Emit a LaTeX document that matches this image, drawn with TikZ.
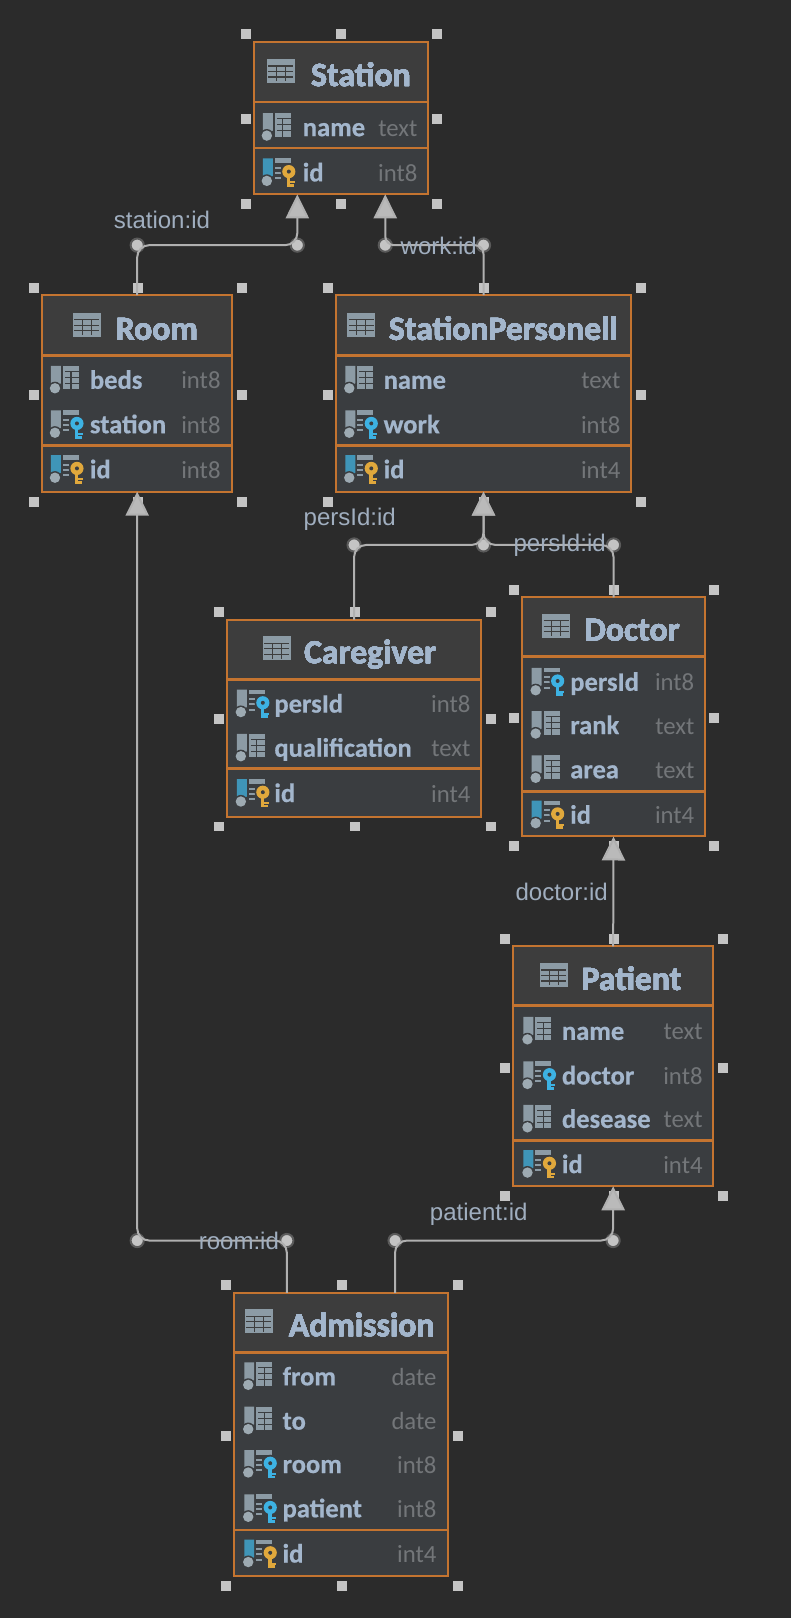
\documentclass[tikz,border=0pt]{standalone}
\usepackage{fontspec}
\setmainfont[BoldFeatures={FakeBold=0.5}]{Carlito}
\newfontfamily\labelfont{Liberation Sans}
\usepackage{tikz}
\usetikzlibrary{arrows.meta, fit}

\definecolor{canvasbg}{HTML}{2B2B2B}
\definecolor{headbg}{HTML}{3D3D3D}
\definecolor{rowbg}{HTML}{3A3D40}
\definecolor{frameorange}{HTML}{C47430}
\definecolor{titleblue}{HTML}{A3B6CC}
\definecolor{typegrey}{HTML}{737679}
\definecolor{labelblue}{HTML}{A0AEBF}
\definecolor{handlegrey}{HTML}{C4C4C4}
\definecolor{linkgrey}{HTML}{B0B0B0}
\definecolor{icongrey}{HTML}{8C9BA5}
\definecolor{pkblue}{HTML}{3F95B8}
\definecolor{fkkey}{HTML}{3DB2E3}
\definecolor{pkkey}{HTML}{E0A83C}

\tikzset{
  tablebox/.style={draw=frameorange, line width=0.05cm, inner sep=0pt, outer sep=0pt},
  rule/.style={frameorange, line width=0.07cm},
  tabletitle/.style={anchor=base west, inner sep=0pt, text=titleblue, font=\fontsize{24}{26}\selectfont\bfseries},
  fieldname/.style={anchor=base west, inner sep=0pt, text=titleblue, font=\fontsize{18.9}{21}\selectfont\bfseries},
  fieldtype/.style={anchor=base east, inner sep=0pt, text=typegrey, font=\fontsize{17.6}{20}\selectfont},
  linklabel/.style={inner sep=0pt, text=labelblue, font=\fontsize{17.1}{19}\selectfont\labelfont},
  link/.style={linkgrey, line width=0.05cm, rounded corners=0.3cm},
  linkhead/.style={-{Triangle[length=0.6cm,width=0.58cm,fill=handlegrey!95!black]}},
  pin/.style={circle, fill=handlegrey, draw=headbg!85!white, line width=0.05cm, minimum size=0.33cm, inner sep=0pt},
}

% one little square of the selection frame
\newcommand{\handle}[2]{\fill[handlegrey] ({#1-5},{#2-5}) rectangle ({#1+5},{#2+5});}

% grid icon in the title row
\newcommand{\tableicon}[2]{
  \begin{scope}[shift={(#1,#2)}]
    \fill[icongrey] (0,0) rectangle (28,24);
    \foreach \gy in {7,12.5,18} \draw[headbg, line width=0.03cm] (1.5,\gy) -- (26.5,\gy);
    \foreach \gx in {9.5,18.5} \draw[headbg, line width=0.03cm] (\gx,7) -- (\gx,22.5);
  \end{scope}
}

% the left part of a field icon, the argument colours the bar
\newcommand{\iconbar}[1]{
  \fill[#1] (0,-14.5) -- (10,-14.5) -- (10,3) -- (5,6) -- (0,3) -- cycle;
  \fill[rowbg] (4,8) circle (6.6);
  \fill[icongrey!85!white] (4,8) circle (5.2);
}
\newcommand{\plainicon}[2]{
  \begin{scope}[shift={(#1,#2)}]
    \iconbar{icongrey}
    \fill[icongrey] (12,-14.5) rectangle (28,9);
    \foreach \gy in {-9,-3,3} \draw[rowbg, line width=0.03cm] (14,\gy) -- (28,\gy);
    \draw[rowbg, line width=0.03cm] (20,-9) -- (20,9);
  \end{scope}
}
\newcommand{\keypart}[1]{
  \fill[icongrey] (12,-14.5) rectangle (28,-10);
  \foreach \gy in {-6,-1,4.5} \fill[icongrey] (12,\gy) rectangle (18,\gy+2);
  \fill[rowbg] (26,-1.5) circle (8.3);
  \fill[#1] (26,-1.3) circle (6.6);
  \fill[rowbg] (26,-1.3) circle (2);
  \fill[#1] (24,3) rectangle (27.5,13.8);
  \fill[#1] (27.5,8.5) rectangle (32,10.5);
  \fill[#1] (27.5,11) rectangle (31,13.8);
}
\newcommand{\fkicon}[2]{
  \begin{scope}[shift={(#1,#2)}]
    \iconbar{icongrey}
    \keypart{fkkey}
  \end{scope}
}
\newcommand{\pkicon}[2]{
  \begin{scope}[shift={(#1,#2)}]
    \iconbar{pkblue}
    \keypart{pkkey}
  \end{scope}
}

% name, left, top, right, bottom, first rule, second rule, icon x, title x, title
\newcommand{\dbtable}[9]{
  \fill[rowbg] (#2,#3) rectangle (#4,#5);
  \fill[headbg] (#2,#3) rectangle (#4,#6);
  \draw[rule] (#2,#6) -- (#4,#6);
  \draw[rule] (#2,#7) -- (#4,#7);
  \coordinate (#1-nw) at (#2,#3);
  \coordinate (#1-se) at (#4,#5);
  \node[tablebox, fit={(#1-nw) (#1-se)}] (#1) {};
  \foreach \fx/\fy in {0/0,.5/0,1/0,0/.5,1/.5,0/1,.5/1,1/1}
    \handle{#2-8+\fx*(#4-#2+17.5)}{#3-7.5+\fy*(#5-#3+17.5)}
  \tableicon{#8}{#6-43}
  \node[tabletitle] (#1-title) at (#9,#6-16) {\tabletext};
}

\begin{document}
\begin{tikzpicture}[x=0.025cm, y=-0.025cm]
\fill[canvasbg] (-1,-1) rectangle (790,1618);
\useasboundingbox (-0.5,-0.7) rectangle (789.5,1617.3);

% Station
\def\tabletext{Station}
\dbtable{station}{252.7}{40.7}{427}{193}{101}{147}{266}{310}
\foreach \icon/\cy/\fname/\ftype in {plainicon/126.7/name/text, pkicon/172/id/int8} {
  \csname\icon\endcsname{262}{\cy}
  \node[fieldname] (station-\fname) at (301.7,\cy+8.5) {\fname};
  \node[fieldtype] (station-\fname-type) at (417,\cy+8.5) {\ftype};
}

% Room
\def\tabletext{Room}
\dbtable{room}{41}{294.3}{231.6}{491}{355}{445}{72}{114.5}
\foreach \icon/\cy/\fname/\ftype in {plainicon/379.5/beds/int8, fkicon/424/station/int8, pkicon/469/id/int8} {
  \csname\icon\endcsname{50}{\cy}
  \node[fieldname] (room-\fname) at (88.7,\cy+8.5) {\fname};
  \node[fieldtype] (room-\fname-type) at (220,\cy+8.5) {\ftype};
}

% StationPersonell
\def\tabletext{StationPersonell}
\dbtable{personell}{335}{294.3}{630.6}{491}{355}{445}{346.5}{387.8}
\foreach \icon/\cy/\fname/\ftype in {plainicon/379.5/name/text, fkicon/424/work/int8, pkicon/469/id/int4} {
  \csname\icon\endcsname{344.5}{\cy}
  \node[fieldname] (personell-\fname) at (382.6,\cy+8.5) {\fname};
  \node[fieldtype] (personell-\fname-type) at (620,\cy+8.5) {\ftype};
}

% Caregiver
\def\tabletext{Caregiver}
\dbtable{caregiver}{226}{619}{480.6}{816}{678.6}{768}{262}{303}
\foreach \icon/\cy/\fname/\ftype in {fkicon/703.5/persId/int8, plainicon/747.7/qualification/text, pkicon/793/id/int4} {
  \csname\icon\endcsname{236}{\cy}
  \node[fieldname] (caregiver-\fname) at (273.3,\cy+8.5) {\fname};
  \node[fieldtype] (caregiver-\fname-type) at (470,\cy+8.5) {\ftype};
}

% Doctor
\def\tabletext{Doctor}
\dbtable{doctor}{521.8}{596.7}{704}{836}{656}{791}{541.5}{583.7}
\foreach \icon/\cy/\fname/\ftype in {fkicon/681.7/persId/int8, plainicon/725/rank/text, plainicon/769.3/area/text, pkicon/814.7/id/int4} {
  \csname\icon\endcsname{531}{\cy}
  \node[fieldname] (doctor-\fname) at (569.3,\cy+8.5) {\fname};
  \node[fieldtype] (doctor-\fname-type) at (694,\cy+8.5) {\ftype};
}

% Patient
\def\tabletext{Patient}
\dbtable{patient}{512.5}{946}{712.6}{1186}{1005.5}{1140}{539}{580.6}
\foreach \icon/\cy/\fname/\ftype in {plainicon/1031/name/text, fkicon/1075.6/doctor/int8, plainicon/1119/desease/text, pkicon/1164.3/id/int4} {
  \csname\icon\endcsname{522.8}{\cy}
  \node[fieldname] (patient-\fname) at (561,\cy+8.5) {\fname};
  \node[fieldtype] (patient-\fname-type) at (702.3,\cy+8.5) {\ftype};
}

% Admission
\def\tabletext{Admission}
\dbtable{admission}{232.7}{1292.7}{447.3}{1576}{1352}{1530}{244}{287.7}
\foreach \icon/\cy/\fname/\ftype in {plainicon/1376.7/from/date, plainicon/1421/to/date, fkicon/1464.4/room/int8, fkicon/1508.7/patient/int8, pkicon/1554/id/int4} {
  \csname\icon\endcsname{243.4}{\cy}
  \node[fieldname] (admission-\fname) at (281.5,\cy+8.5) {\fname};
  \node[fieldtype] (admission-\fname-type) at (436,\cy+8.5) {\ftype};
}

% Bend pins of the connectors
\node[pin] (stationid-a) at (136.3,244.3) {};
\node[pin] (stationid-b) at (296.5,244.3) {};
\node[pin] (workid-a) at (384.5,244.3) {};
\node[pin] (workid-b) at (482.8,244.3) {};
\node[pin] (persid-a) at (353.3,544.3) {};
\node[pin] (persid-b) at (482.8,544.3) {};
\node[pin] (persid-c) at (612.9,544.3) {};
\node[pin] (roomid-a) at (136.3,1240.3) {};
\node[pin] (roomid-b) at (286,1240.3) {};
\node[pin] (patientid-a) at (394.3,1240.3) {};
\node[pin] (patientid-b) at (612.5,1240.3) {};

% Where the arrow tips and the tails land
\coordinate (station-in-a) at (296.5,193.5);
\coordinate (station-in-b) at (384.5,193.5);
\coordinate (admission-out-a) at (286,1292.7);
\coordinate (admission-out-b) at (394.3,1292.7);

% Connectors
\draw[link, linkhead] (room.north) -- (stationid-a.center) -- (stationid-b.center) -- (station-in-a);
\draw[link, linkhead, rounded corners=0.22cm] (personell.north) -- (workid-b.center) -- (workid-a.center) -- (station-in-b);
\draw[link, linkhead] (caregiver.north) -- (persid-a.center) -- (persid-b.center) -- (personell.south);
\draw[link, linkhead] (doctor.north) -- (persid-c.center) -- (persid-b.center) -- (personell.south);
\draw[link, linkhead] (patient.north) -- (doctor.south);
\draw[link, linkhead] (admission-out-a) -- (roomid-b.center) -- (roomid-a.center) -- (room.south);
\draw[link, linkhead] (admission-out-b) -- (patientid-a.center) -- (patientid-b.center) -- (patient.south);

% Labels
\node[linklabel] (stationid-label) at (161,219.5) {station:id};
\node[linklabel] (workid-label) at (438,245) {work:id};
\node[linklabel] (persid-label-a) at (349,518.5) {persId:id};
\node[linklabel] (persid-label-b) at (559,544.5) {persId:id};
\node[linklabel] (doctorid-label) at (561,891.5) {doctor:id};
\node[linklabel] (patientid-label) at (478,1214.5) {patient:id};
\node[linklabel] (roomid-label) at (238,1240.5) {room:id};
\end{tikzpicture}
\end{document}
